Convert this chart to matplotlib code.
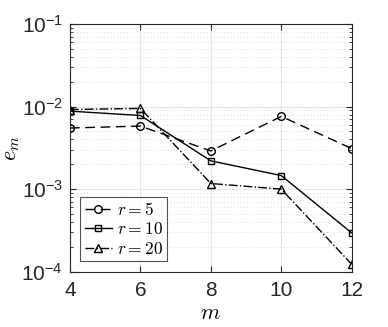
import matplotlib
matplotlib.use("Agg")
import matplotlib.pyplot as plt
from matplotlib.ticker import LogLocator, NullFormatter

plt.rcParams['font.family'] = ['Liberation Sans', 'DejaVu Sans']
plt.rcParams['mathtext.fontset'] = 'cm'

m = [4, 6, 8, 10, 12]
err_r5 = [5.5e-3, 5.8e-3, 2.9e-3, 7.6e-3, 3.1e-3]
err_r10 = [8.8e-3, 7.8e-3, 2.2e-3, 1.46e-3, 2.95e-4]
err_r20 = [9.2e-3, 9.5e-3, 1.17e-3, 1.0e-3, 1.23e-4]
labels = ['$r = 5$', '$r = 10$', '$r = 20$']
ytick_vals = [1e-4, 1e-3, 1e-2, 1e-1]
ytick_labels = [r'$\mathregular{10^{-4}}$', r'$\mathregular{10^{-3}}$',
                r'$\mathregular{10^{-2}}$', r'$\mathregular{10^{-1}}$']

fig = plt.figure(figsize=(3.88, 3.27), dpi=100)
ax = fig.add_axes([70/388, 1-271.7/327, (351.7-70)/388, (271.7-24)/327])

ax.plot(m, err_r5, color='k', ls='--', dashes=(7, 4), marker='o', ms=5.5, mfc='none', mew=1.0, lw=1.0, label=labels[0])
ax.plot(m, err_r10, color='k', ls='-', marker='s', ms=4, mfc='none', mew=1.0, lw=1.0, label=labels[1])
ax.plot(m, err_r20, color='k', ls='-.', marker='^', ms=6, mfc='none', mew=1.0, lw=1.0, label=labels[2])

ax.set_yscale('log')
ax.set_xlim(4, 12)
ax.set_ylim(1e-4, 1e-1)
ax.set_xticks(m)
ax.set_yticks(ytick_vals)
ax.set_yticklabels(ytick_labels)
ax.yaxis.set_minor_locator(LogLocator(base=10, subs=range(2, 10), numticks=20))
ax.yaxis.set_minor_formatter(NullFormatter())
ax.grid(True, which='major', color='#e6e6e6', lw=0.8, ls='-')
ax.grid(True, which='minor', axis='y', color='#cccccc', lw=0.6, ls=(0, (1, 3)))
ax.set_axisbelow(True)
ax.tick_params(direction='in', which='both', top=True, right=True, labelsize=15, colors='#262626')
ax.tick_params(which='major', length=4)
ax.tick_params(which='minor', length=2)
ax.tick_params(axis='x', pad=7)
ax.tick_params(axis='y', pad=5)
for s in ax.spines.values():
    s.set_color('#262626')
    s.set_linewidth(0.8)

ax.set_xlabel('$m$', fontsize=16, labelpad=2)
ax.set_ylabel('$e_m$', fontsize=16)
ax.yaxis.set_label_coords(-0.17, 0.5)

leg = ax.legend(loc='lower left', fontsize=12.5, frameon=True, fancybox=False,
                edgecolor='#262626', handlelength=1.55, handletextpad=0.3,
                borderpad=0.25, labelspacing=0.2, borderaxespad=0.6)
leg.get_frame().set_linewidth(0.8)

fig.savefig('out.png', dpi=100)
